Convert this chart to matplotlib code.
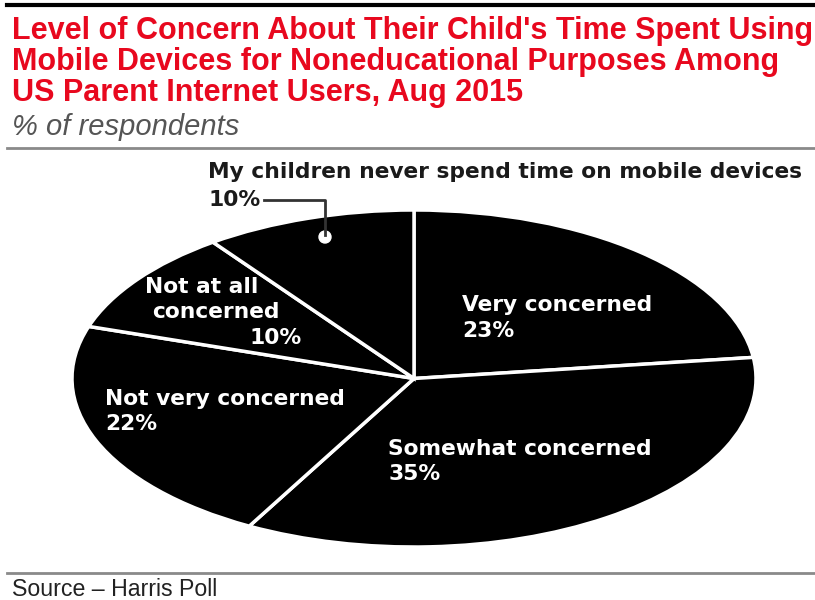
import matplotlib
matplotlib.use("Agg")
import matplotlib.pyplot as plt
from matplotlib.lines import Line2D
from matplotlib.patches import Ellipse

categories = ["Very concerned", "Somewhat concerned", "Not very concerned",
              "Not at all concerned", "My children never spend time on mobile devices"]
values = [23, 35, 22, 10, 10]
title_lines = ["Level of Concern About Their Child's Time Spent Using",
               "Mobile Devices for Noneducational Purposes Among",
               "US Parent Internet Users, Aug 2015"]
subtitle = "% of respondents"
source = "Source \u2013 Harris Poll"

W, H = 815, 600
fig = plt.figure(figsize=(W / 100, H / 100), dpi=100)
fig.patch.set_facecolor("white")

def fx(x):
    return x / W

def fy(y):
    return 1 - y / H

FONT = "Liberation Sans"
LFONT = "DejaVu Sans"

# Pie axes (stretched into an ellipse)
left, right, top, bottom = 72, 756, 210, 547
ax = fig.add_axes([fx(left), fy(bottom), (right - left) / W, (bottom - top) / H])
ax.pie(values, startangle=90, counterclock=False, colors=["black"] * len(values),
       wedgeprops=dict(edgecolor="white", linewidth=2.5))
ax.set_aspect("auto")
ax.set_xlim(-1, 1)
ax.set_ylim(-1, 1)
ax.axis("off")

# Horizontal rules
fig.add_artist(Line2D([fx(7), fx(815)], [fy(5), fy(5)], color="black", lw=3))
fig.add_artist(Line2D([fx(7), fx(815)], [fy(148), fy(148)], color="#8a8a8a", lw=2))
fig.add_artist(Line2D([fx(7), fx(815)], [fy(573), fy(573)], color="#8a8a8a", lw=2))

# Title and subtitle
for line, y in zip(title_lines, [31, 62, 93]):
    fig.text(fx(12), fy(y), line, color="#e8081e", fontsize=22, fontweight="bold",
             family=FONT, va="center", ha="left")
fig.text(fx(12), fy(127), subtitle, color="#555555", fontsize=21, style="italic",
         family=FONT, va="center", ha="left")
fig.text(fx(12), fy(590), source, color="#222222", fontsize=16.7, family=FONT,
         va="center", ha="left")

lab = dict(color="white", fontsize=15.7, fontweight="bold", family=LFONT, va="center", ha="left")
pct = [f"{v}%" for v in values]

fig.text(fx(462), fy(305), categories[0], **lab)
fig.text(fx(462), fy(331), pct[0], **lab)
fig.text(fx(388), fy(449), categories[1], **lab)
fig.text(fx(388), fy(474), pct[1], **lab)
fig.text(fx(105), fy(399), categories[2], **lab)
fig.text(fx(105), fy(424), pct[2], **lab)
na1, na2 = categories[3].rsplit(" ", 1)
fig.text(fx(145), fy(287), na1, **lab)
fig.text(fx(152), fy(312), na2, **lab)
fig.text(fx(250), fy(338), pct[3], **lab)

dark = dict(lab, color="#1a1a1a")
fig.text(fx(208), fy(172), categories[4], **dark)
fig.text(fx(208), fy(200), pct[4], **dark)

# Leader line with dot
fig.add_artist(Line2D([fx(264), fx(325), fx(325)], [fy(200), fy(200), fy(235)],
                      color="#333333", lw=2))
fig.add_artist(Ellipse((fx(325), fy(237)), 12 / W, 12 / H, facecolor="white",
                       edgecolor="white", transform=fig.transFigure))

fig.savefig("out.png", dpi=100)
